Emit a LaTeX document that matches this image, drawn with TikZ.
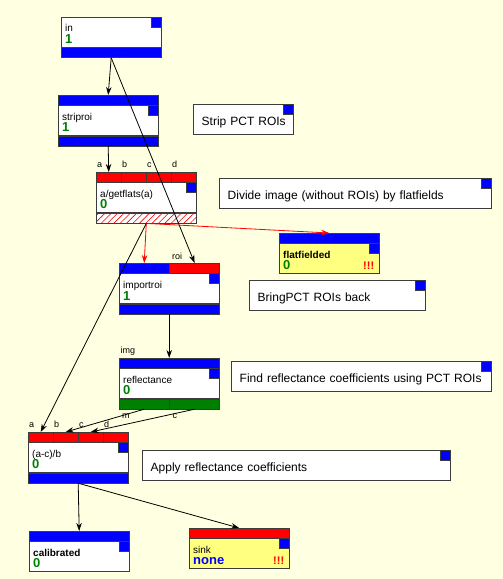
\documentclass[tikz,border=0pt]{standalone}
\usepackage{fontspec}
\setmainfont{Liberation Sans}
\usetikzlibrary{arrows.meta}
\usetikzlibrary{positioning}
\usetikzlibrary{patterns.meta}
\definecolor{canvas}{RGB}{255,255,225}
\definecolor{portblue}{RGB}{0,0,255}
\definecolor{portred}{RGB}{255,0,0}
\definecolor{portgreen}{RGB}{0,128,0}
\definecolor{sinkyellow}{RGB}{255,255,128}
\definecolor{edgegray}{RGB}{60,60,60}
\definecolor{countgreen}{RGB}{0,128,0}
\tikzset{
    font={\fontsize{10pt}{12pt}\selectfont},
    body/.style={
           rectangle,
           draw=edgegray,
           fill=white,
           minimum width=100pt,
           minimum height=30pt,
           inner sep=0pt,
           anchor=north west,
           },
    port/.style={
           rectangle,
           draw=edgegray,
           fill=#1,
           minimum width=100pt,
           minimum height=10pt,
           inner sep=0pt,
           anchor=north west,
           },
    port/.default=portblue,
    hatched/.style={port, preaction={fill=white},
           pattern={Lines[angle=45,distance=4.5pt,line width=0.6pt]}, pattern color=portred},
    corner/.style={rectangle, draw=edgegray, fill=portblue, minimum size=10pt, inner sep=0pt, anchor=north east},
    fname/.style={anchor=base west, inner sep=0pt},
    fcount/.style={anchor=base west, inner sep=0pt, text=countgreen, font={\fontsize{13pt}{13pt}\selectfont\bfseries}},
    warn/.style={anchor=base east, inner sep=0pt, text=portred, font={\fontsize{11pt}{11pt}\selectfont\bfseries}},
    plabel/.style={anchor=base west, inner sep=0pt, font={\fontsize{9pt}{9pt}\selectfont}},
    note/.style={
           rectangle,
           draw=edgegray,
           fill=white,
           minimum height=30pt,
           inner xsep=8.5pt,
           anchor=north west,
           text height=12pt, text depth=0pt,
           align=left, text width=#1,
           font={\fontsize{12pt}{14pt}\selectfont},
           },
    wire/.style={->, line width=0.8pt, draw=black},
}
\begin{document}
\begin{tikzpicture}[x=1pt,y=-1pt,>={Stealth[length=8pt,width=5.5pt]}]
\fill[canvas] (0,0) rectangle (503,579);
\useasboundingbox (0,0) rectangle (503,579);

% in
\node[body] (IN) at (61,17) {};
\node[corner] (INCORNER) at (IN.north east) {};
\node[port] (INOUT) at (IN.south west) {};
\node[fname] (INNAME) at ([shift={(4,14.5)}]IN.north west) {in};
\node[fcount] (INCOUNT) at ([shift={(4,26.5)}]IN.north west) {1};

% striproi
\node[port] (SPIN) at (58,95) {};
\node[body] (SP) at (SPIN.south west) {};
\node[corner] (SPCORNER) at (SP.north east) {};
\node[port] (SPOUT) at (SP.south west) {};
\node[fname] (SPNAME) at ([shift={(4,15)}]SP.north west) {striproi};
\node[fcount] (SPCOUNT) at ([shift={(4,26.5)}]SP.north west) {1};

% a/getflats(a)
\foreach \p [count=\i from 0] in {a,b,c,d} {
  \node[port=portred, minimum width=25pt] (GF\p) at (96+25*\i,172) {};
  \node[plabel] (GFLABEL\p) at ([shift={(1,-4.5)}]GF\p.north west) {\p};
}
\node[body] (GF) at (GFa.south west) {};
\node[corner] (GFCORNER) at (GF.north east) {};
\node[hatched] (GFOUT) at (GF.south west) {};
\node[fname] (GFNAME) at ([shift={(4,15)}]GF.north west) {a/getflats(a)};
\node[fcount] (GFCOUNT) at ([shift={(4,26.5)}]GF.north west) {0};

% flatfielded
\node[port] (FFIN) at (279,233) {};
\node[body, fill=sinkyellow] (FF) at (FFIN.south west) {};
\node[corner] (FFCORNER) at (FF.north east) {};
\node[fname, font={\fontsize{10pt}{12pt}\selectfont\bfseries}] (FFNAME) at ([shift={(4,15)}]FF.north west) {flatfielded};
\node[fcount] (FFCOUNT) at ([shift={(4,26.5)}]FF.north west) {0};
\node[warn] (FFWARN) at ([shift={(-5,26.5)}]FF.north east) {!!!};

% importroi
\node[port, minimum width=50pt] (IMIN) at (119,263) {};
\node[port=portred, minimum width=50pt, right=0pt of IMIN] (IMROI) {};
\node[plabel] (IMLABEL) at ([shift={(2.5,-4)}]IMROI.north west) {roi};
\node[body] (IM) at (IMIN.south west) {};
\node[corner] (IMCORNER) at (IM.north east) {};
\node[port] (IMOUT) at (IM.south west) {};
\node[fname] (IMNAME) at ([shift={(4,15.5)}]IM.north west) {importroi};
\node[fcount] (IMCOUNT) at ([shift={(4,27)}]IM.north west) {1};

% reflectance
\node[port] (RFIN) at (119,358) {};
\node[plabel] (RFLABEL) at ([shift={(1.5,-5)}]RFIN.north west) {img};
\node[body] (RF) at (RFIN.south west) {};
\node[corner] (RFCORNER) at (RF.north east) {};
\node[port=portgreen, minimum width=50pt] (RFM) at (RF.south west) {};
\node[port=portgreen, minimum width=50pt, right=0pt of RFM] (RFC) {};
\node[plabel] (RFMLABEL) at ([shift={(3,9.5)}]RFM.south west) {m};
\node[plabel] (RFCLABEL) at ([shift={(3,9.5)}]RFC.south west) {c};
\node[fname] (RFNAME) at ([shift={(4,15)}]RF.north west) {reflectance};
\node[fcount] (RFCOUNT) at ([shift={(4,26.5)}]RF.north west) {0};

% (a-c)/b
\foreach \p [count=\i from 0] in {a,b,c,d} {
  \node[port=portred, minimum width=25pt] (DV\p) at (28+25*\i,432) {};
  \node[plabel] (DVLABEL\p) at ([shift={(1,-4.5)}]DV\p.north west) {\p};
}
\node[body] (DV) at (DVa.south west) {};
\node[corner] (DVCORNER) at (DV.north east) {};
\node[port] (DVOUT) at (DV.south west) {};
\node[fname] (DVNAME) at ([shift={(4,15)}]DV.north west) {(a-c)/b};
\node[fcount] (DVCOUNT) at ([shift={(4,26.5)}]DV.north west) {0};

% calibrated
\node[port] (CALIN) at (29,531) {};
\node[body] (CAL) at (CALIN.south west) {};
\node[corner] (CALCORNER) at (CAL.north east) {};
\node[fname, font={\fontsize{10pt}{12pt}\selectfont\bfseries}] (CALNAME) at ([shift={(4,15)}]CAL.north west) {calibrated};
\node[fcount] (CALCOUNT) at ([shift={(4,26.5)}]CAL.north west) {0};

% sink
\node[port=portred] (SKIN) at (189,528) {};
\node[body, fill=sinkyellow] (SK) at (SKIN.south west) {};
\node[corner] (SKCORNER) at (SK.north east) {};
\node[fname] (SKNAME) at ([shift={(4,15)}]SK.north west) {sink};
\node[fcount, text=portblue] (SKCOUNT) at ([shift={(4,26.5)}]SK.north west) {none};
\node[warn] (SKWARN) at ([shift={(-5,26.5)}]SK.north east) {!!!};

% comments
\node[note=83pt] (NSTRIP) at (193,104) {Strip~PCT~ROIs};
\node[corner] (NSTRIPC) at (NSTRIP.north east) {};
\node[note=255pt] (NDIVIDE) at (219,178) {Divide image (without ROIs) by flatfields};
\node[corner] (NDIVIDEC) at (NDIVIDE.north east) {};
\node[note=159pt] (NBRING) at (249,280) {BringPCT ROIs back};
\node[corner] (NBRINGC) at (NBRING.north east) {};
\node[note=243pt] (NFIND) at (231,361) {Find reflectance coefficients using PCT ROIs};
\node[corner] (NFINDC) at (NFIND.north east) {};
\node[note=291pt] (NAPPLY) at (142,450) {Apply reflectance coefficients};
\node[corner] (NAPPLYC) at (NAPPLY.north east) {};

% connections
\draw[wire] (INOUT.south) -- (SPIN.north);
\draw[wire] (INOUT.south) -- (IMROI.north);
\draw[wire] (SPOUT.south) -- (GFa.north);
\draw[wire, draw=portred] (GFOUT.south) -- (IMIN.north);
\draw[wire, draw=portred] (GFOUT.south) -- (FFIN.north);
\draw[wire] (GFOUT.south) -- (DVa.north);
\draw[wire] (IMOUT.south) -- (RFIN.north);
\draw[wire] (RFM.south) -- (DVb.north);
\draw[wire] (RFC.south) -- (DVc.north);
\draw[wire] (DVOUT.south) -- (CALIN.north);
\draw[wire] (DVOUT.south) -- (SKIN.north);

\end{tikzpicture}
\end{document}
